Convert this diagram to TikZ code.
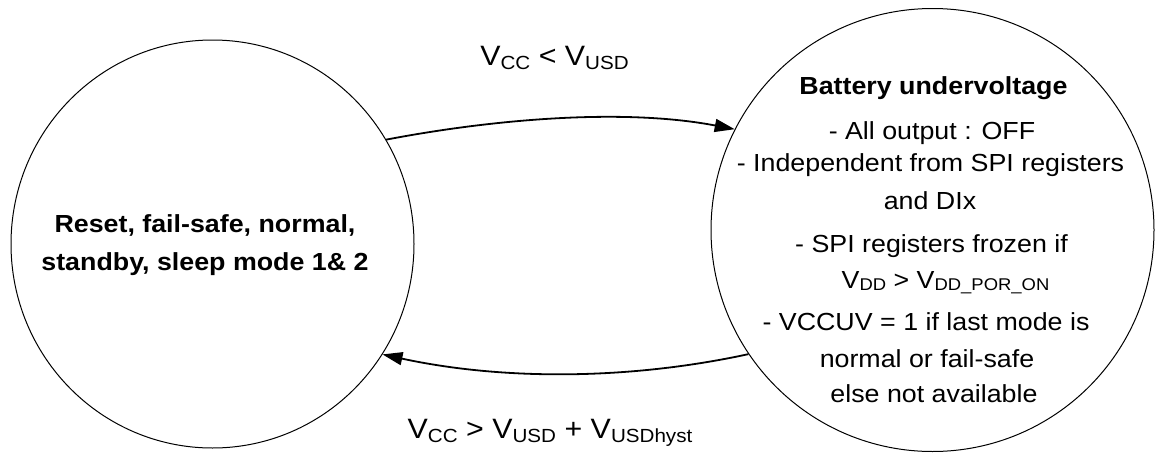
\documentclass[tikz,border=0pt]{standalone}
\usepackage{fontspec}
\setmainfont[FakeStretch=1.085]{Liberation Sans}
\usetikzlibrary{arrows.meta,shapes.geometric}
\newcommand{\lbsub}[1]{\raisebox{-4pt}{\fontsize{19}{19}\selectfont #1}}
\newcommand{\cisub}[1]{\raisebox{-2pt}{\fontsize{17}{17}\selectfont #1}}
\tikzset{
  state/.style={draw=black, line width=1pt, inner sep=0pt},
  conn/.style={draw=black, line width=1.8pt, -{Triangle[length=20pt,width=13pt]}},
  ctext/.style={anchor=base, inner sep=0pt, font=\fontsize{24.7}{28}\selectfont},
  btext/.style={ctext, font=\fontsize{24.7}{28}\selectfont\bfseries},
  ltext/.style={anchor=base, inner sep=0pt, font=\fontsize{28}{32}\selectfont}
}
\begin{document}
\begin{tikzpicture}[x=1pt, y=-1pt]
\useasboundingbox (0,0) rectangle (1159,455);
\node[state, ellipse, minimum width=403pt, minimum height=408pt] (L) at (212.5,244) {};
\node[state, circle, minimum size=443pt] (R) at (932.5,230) {};
% left text
\node[btext] (l1) at (205,232) {Reset, fail-safe, normal,};
\node[btext] (l2) at (205,270) {standby, sleep mode 1\& 2};
% right text
\node[btext] (r1) at (933.5,94) {Battery undervoltage};
\node[ctext] (r2) at (932,139) {- All output : OFF};
\node[ctext] (r3) at (930.5,171) {- Independent from SPI registers};
\node[ctext] (r4) at (930,209) {and DIx};
\node[ctext] (r5) at (931.5,252) {- SPI registers frozen if};
\node[ctext] (r6) at (945.5,288) {V\cisub{DD} > V\cisub{DD\_POR\_ON}};
\node[ctext] (r7) at (926,330) {- VCCUV = 1 if last mode is};
\node[ctext] (r8) at (927,367) {normal or fail-safe};
\node[ctext] (r9) at (934,402) {else not available};
% edge labels
\node[ltext] (e1) at (554.5,65) {V\lbsub{CC} < V\lbsub{USD}};
\node[ltext] (e2) at (550,438) {V\lbsub{CC} > V\lbsub{USD} + V\lbsub{USDhyst}};
% connectors
\draw[conn] (L.31.8) .. controls +(110,-21) and +(-110,-21) .. (R.153.1);
\draw[conn] (R.214.4) .. controls +(-120,26) and +(120,26) .. (L.-33.9);
\end{tikzpicture}
\end{document}
